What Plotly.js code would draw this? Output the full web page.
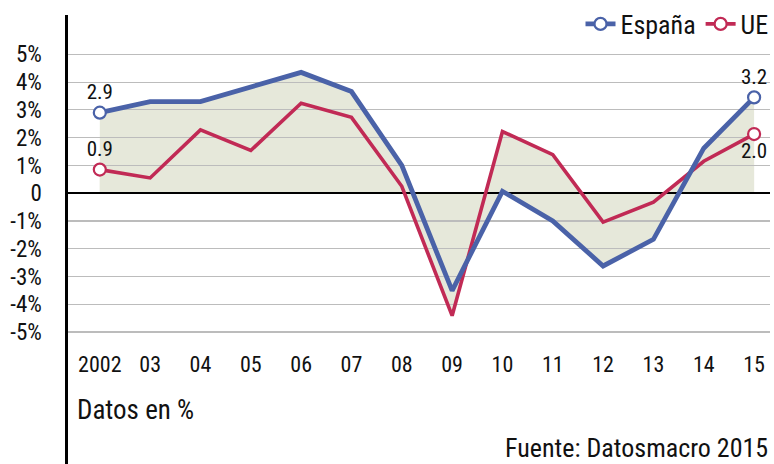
<!DOCTYPE html>
<html>
<head>
<meta charset="utf-8">
<script src="https://cdn.plot.ly/plotly-3.0.1.min.js"></script>
<style>html,body{margin:0;padding:0;background:#fff;}#chart{width:774px;height:464px;}</style>
</head>
<body>
<div id="chart"></div>
<script>
// ---- data ----
const years = ['2002','03','04','05','06','07','08','09','10','11','12','13','14','15'];
const espana = [2.9, 3.3, 3.3, 3.83, 4.35, 3.66, 1.0, -3.51, 0.07, -1.0, -2.62, -1.66, 1.62, 3.45];
const ue     = [0.85, 0.55, 2.28, 1.54, 3.24, 2.73, 0.25, -4.41, 2.22, 1.39, -1.04, -0.32, 1.15, 2.13];
const espanaEndLabels = ['2.9', '3.2'];
const ueEndLabels = ['0.9', '2.0'];
const yTickVals = [-5,-4,-3,-2,-1,0,1,2,3,4,5];
const yTickText = ['-5%','-4%','-3%','-2%','-1%','0','1%','2%','3%','4%','5%'];
const seriesNames = ['España', 'UE'];

// ---- style ----
const FONT = '"Roboto Condensed", "Liberation Sans Narrow", "Arial Narrow", "DejaVu Sans Condensed", sans-serif';
const BLUE = '#4a62a8';
const RED = '#c12a55';
const FILL = '#e6e8da';
const n = years.length;
const XR = [-0.632, 13.316];
const YR = [-9.749, 6.416];

function endsOnly(arr){ return arr.map((v,i)=> (i===0||i===n-1) ? v : null); }
function endText(lbls){ return years.map((y,i)=> i===0 ? lbls[0] : (i===n-1 ? lbls[1] : '')); }

const traces = [
  {x: years, y: espana, xaxis:'x', yaxis:'y', mode:'none', fill:'tozeroy', fillcolor: FILL, showlegend:false, hoverinfo:'skip'},
  {x: years, y: ue, xaxis:'x', yaxis:'y', mode:'none', fill:'tozeroy', fillcolor: FILL, showlegend:false, hoverinfo:'skip'},
  {x: years, y: ue, xaxis:'x2', yaxis:'y2', mode:'lines', line:{color:RED, width:3.6}, showlegend:false},
  {x: years, y: espana, xaxis:'x2', yaxis:'y2', mode:'lines', line:{color:BLUE, width:4.8}, showlegend:false},
  {x: years, y: endsOnly(espana), xaxis:'x2', yaxis:'y2', name: seriesNames[0], mode:'lines+markers+text', connectgaps:false,
   line:{color:BLUE, width:4.8}, marker:{symbol:'circle', size:12, color:'#fff', line:{color:BLUE, width:2.2}},
   text: endText(espanaEndLabels), textposition:'top center', textfont:{family:FONT, size:21, color:'#111'}, cliponaxis:false},
  {x: years, y: endsOnly(ue), xaxis:'x2', yaxis:'y2', name: seriesNames[1], mode:'lines+markers+text', connectgaps:false,
   line:{color:RED, width:3.6}, marker:{symbol:'circle', size:12, color:'#fff', line:{color:RED, width:2.2}},
   text: endText(ueEndLabels), textposition: years.map((y,i)=> i===0 ? 'top center' : 'bottom center'),
   textfont:{family:FONT, size:21, color:'#111'}, cliponaxis:false}
];

const layout = {
  width: 774, height: 464,
  margin: {l:68, r:0, t:13, b:0, pad:0},
  paper_bgcolor:'#fff', plot_bgcolor:'rgba(0,0,0,0)',
  font: {family: FONT, size: 21, color:'#111'},
  showlegend: true,
  legend: {orientation:'h', x:1.005, xanchor:'right', y:0.98, yanchor:'middle', bgcolor:'rgba(0,0,0,0)',
           font:{family:FONT, size:26, color:'#111'}, itemwidth:30, tracegroupgap:0},
  xaxis: {type:'category', range: XR, domain:[0,1], anchor:'y', showgrid:false, zeroline:false, showticklabels:false, showline:false, fixedrange:true},
  yaxis: {range: YR, domain:[0,1], anchor:'x', showgrid:false, zeroline:false, showticklabels:false, showline:false, fixedrange:true},
  xaxis2: {type:'category', range: XR, domain:[0,1], anchor:'free', position:0.256, showgrid:false, zeroline:false, showline:false,
           ticks:'', tickfont:{family:FONT, size:22, color:'#111'}, fixedrange:true},
  yaxis2: {range: YR, domain:[0,1], anchor:'x2', tickvals:yTickVals, ticktext:yTickText, showgrid:true, gridcolor:'#bcbcbc', gridwidth:1.2,
           zeroline:true, zerolinecolor:'#000', zerolinewidth:2.2, showline:true, linecolor:'#000', linewidth:2.6,
           ticks:'', ticklabelstandoff:19, tickfont:{family:FONT, size:23, color:'#111'}, fixedrange:true},
  annotations: [
    {text:'Datos en %', xref:'paper', yref:'paper', x:0.0099, y:0.12, xanchor:'left', yanchor:'middle', showarrow:false,
     font:{family:FONT, size:27, color:'#111'}},
    {text:'Fuente: Datosmacro 2015', xref:'paper', yref:'paper', x:1.0, y:0.036, xanchor:'right', yanchor:'middle', showarrow:false,
     font:{family:FONT, size:26, color:'#111'}}
  ]
};

Plotly.newPlot('chart', traces, layout, {displayModeBar:false, staticPlot:true});
</script>
</body>
</html>
